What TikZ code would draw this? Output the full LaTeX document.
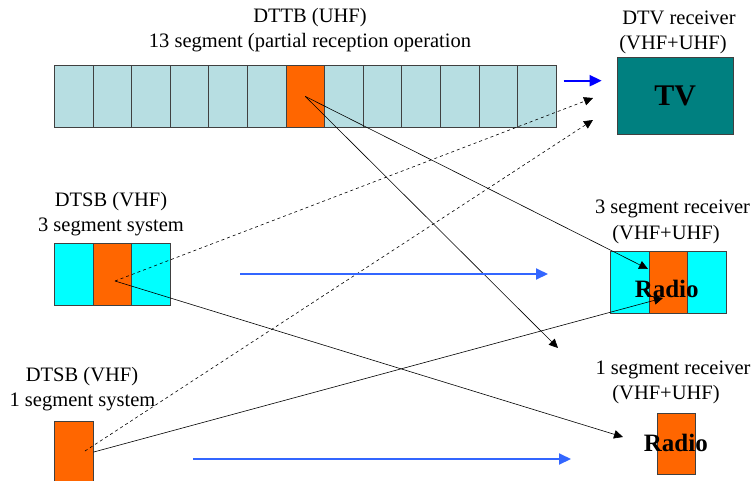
\documentclass[tikz,border=0pt]{standalone}
\usepackage{fontspec}
\setmainfont{Liberation Serif}
\usetikzlibrary{arrows.meta,positioning}
\definecolor{segblue}{RGB}{183,222,226}
\definecolor{segorange}{RGB}{255,102,0}
\definecolor{segcyan}{RGB}{0,255,255}
\definecolor{tvteal}{RGB}{0,128,128}
\definecolor{flowblue}{RGB}{0,0,255}
\definecolor{flowlight}{RGB}{51,102,255}
\tikzset{
  seg/.style={draw=black!75, line width=0.8pt, minimum width=38.6pt, minimum height=62pt, inner sep=0pt, anchor=north west},
  lbl/.style={font=\fontsize{20.5}{24}\selectfont, inner sep=0pt},
  radio/.style={font=\bfseries\fontsize{25}{25}\selectfont, inner sep=0pt},
  link/.style={-{Triangle[length=9pt,width=8.5pt]}, line width=0.6pt},
  flow/.style={-{Triangle[length=12pt,width=11pt]}, line width=2pt},
}

\begin{document}
\begin{tikzpicture}[x=1pt,y=-1pt]
  \clip (0,0) rectangle (753,480);
  % DTTB 13 segment bar
  \foreach \i in {1,...,6,8,9,...,13} {
    \node[seg, fill=segblue] (t\i) at ({54+38.6*(\i-1)},65) {};
  }
  \node[seg, fill=segorange] (t7) at (285.6,65) {};
  \node[lbl] (ttbname) at (310,18) {DTTB (UHF)};
  \node[lbl] (ttbsub) at (310,43) {13 segment (partial reception operation};

  % DTV receiver
  \node[draw=black!75, line width=0.8pt, fill=tvteal, minimum width=116pt, minimum height=77pt, font=\bfseries\fontsize{30}{30}\selectfont] (tv) at (675.3,96.3) {TV};
  \node[lbl] (tvname) at (679,18) {DTV receiver};
  \node[lbl] (tvband) at (673,45) {(VHF+UHF)};

  % DTSB 3 segment system
  \node[seg, fill=segcyan] (sa) at (54,242.7) {};
  \node[seg, fill=segorange] (sb) at (92.6,242.7) {};
  \node[seg, fill=segcyan] (sc) at (131.2,242.7) {};
  \node[lbl] (sbname) at (111,201.7) {DTSB (VHF)};
  \node[lbl] (sbsub) at (111,226.7) {3 segment system};

  % DTSB 1 segment system
  \node[seg, fill=segorange] (so) at (54,420.7) {};
  \node[lbl] (soname) at (82,376.7) {DTSB (VHF)};
  \node[lbl] (sosub) at (82.5,401.7) {1 segment system};

  % 3 segment receiver
  \node[seg, fill=segcyan] (ra) at (610,250.7) {};
  \node[seg, fill=segorange] (rb) at (648.6,250.7) {};
  \node[seg, fill=segcyan] (rc) at (687.2,250.7) {};
  \node[radio] (rtxt) at (666.7,289) {Radio};
  \node[lbl] (rname) at (672.5,209) {3 segment receiver};
  \node[lbl] (rband) at (666,235) {(VHF+UHF)};

  % 1 segment receiver
  \node[seg, fill=segorange, minimum width=38.3pt, minimum height=61.3pt] (ro) at (656.7,412.7) {};
  \node[radio] (rotxt) at (675.8,443) {Radio};
  \node[lbl] (roname) at (673,370) {1 segment receiver};
  \node[lbl] (roband) at (666,395) {(VHF+UHF)};

  % connector ends
  \coordinate (sbsrc) at (115,281);
  \coordinate (sodash) at (85,451);
  \coordinate (tvup) at (593,98);
  \coordinate (tvlow) at (593,120);
  \coordinate (rtop) at (648,269);
  \coordinate (rlow) at (663,298);
  \coordinate (rofar) at (558,348);
  \coordinate (roin) at (623,437);

  \draw[link] (t7.center) -- (rtop);
  \draw[link] (t7.center) -- (rofar);
  \draw[link] (sbsrc) -- (roin);
  \draw[link] (so.east) -- (rlow);
  \draw[link, dashed] (sbsrc) -- (tvup);
  \draw[link, dashed] (sodash) -- (tvlow);

  % main flows
  \coordinate (ttbout) at (563.7,80.7);
  \coordinate (tvin) at (601.7,80.7);
  \coordinate (sbout) at (240,274);
  \coordinate (rin) at (548,274);
  \coordinate (soout) at (193,459);
  \coordinate (roleft) at (571,459);
  \draw[flow, flowblue] (ttbout) -- (tvin);
  \draw[flow, flowlight] (sbout) -- (rin);
  \draw[flow, flowlight] (soout) -- (roleft);
\end{tikzpicture}
\end{document}
